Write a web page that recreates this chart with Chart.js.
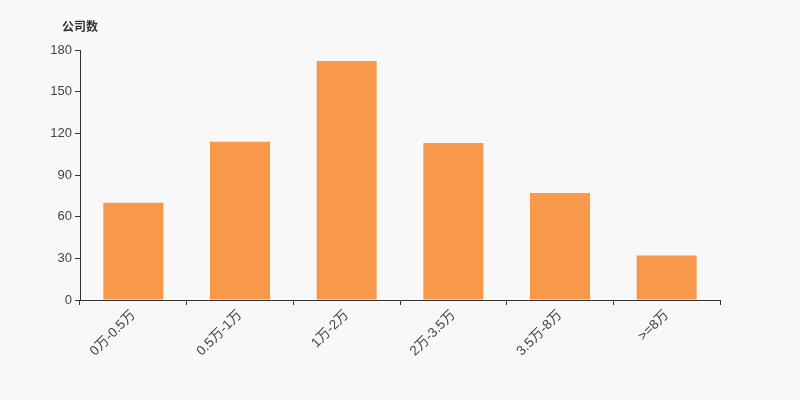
<!DOCTYPE html>
<html>
<head>
<meta charset="utf-8">
<script src="https://cdn.jsdelivr.net/npm/chart.js@4.4.0/dist/chart.umd.min.js"></script>
<style>
	html, body { margin: 0; padding: 0; background: #f8f8f8; }
	#wrap { width: 800px; height: 400px; }
</style>
</head>
<body>
<div id="wrap"><canvas id="bar-chart" width="800" height="400"></canvas></div>
<script>
// data
var categories = ["0万-0.5万", "0.5万-1万", "1万-2万", "2万-3.5万", "3.5万-8万", ">=8万"];
var companyCounts = [70, 114, 172, 113, 77, 32];
var yTicks = [0, 30, 60, 90, 120, 150, 180];
var yTitle = "公司数";

var FONT = "'Liberation Sans', 'Noto Sans CJK SC', sans-serif";
var AXIS_COLOR = "#333333";

// title above the y axis, like the original
var yTitlePlugin = {
	id: "yTitle",
	afterDraw: function (chart) {
		var ctx = chart.ctx;
		ctx.save();
		ctx.font = "bold 12px " + FONT;
		ctx.fillStyle = "#333333";
		ctx.textAlign = "center";
		ctx.textBaseline = "middle";
		ctx.fillText(yTitle, chart.chartArea.left, chart.chartArea.top - 22);
		ctx.restore();
	}
};

var handleBarChart = function () {
	const ctx = document.getElementById("bar-chart").getContext("2d");

	var datany = {
		labels: categories,
		datasets: [
			{
				label: yTitle,
				data: companyCounts,
				backgroundColor: "#f7984a",
				borderWidth: 0,
				barPercentage: 0.5625,
				categoryPercentage: 1,
			},
		],
	};

	const myChart = new Chart(ctx, {
		type: "bar",
		data: datany,
		options: {
			responsive: false,
			animation: false,
			layout: {
				padding: { top: 50, right: 80, left: 0, bottom: 0 },
			},
			plugins: {
				legend: { display: false },
				tooltip: { enabled: false },
			},
			scales: {
				x: {
					afterFit: function (scale) { scale.height = 100; },
					border: { display: true, color: AXIS_COLOR, width: 1 },
					grid: {
						offset: true,
						drawOnChartArea: false,
						drawTicks: true,
						tickLength: 5,
						color: AXIS_COLOR,
					},
					ticks: {
						autoSkip: false,
						maxRotation: 45,
						minRotation: 45,
						padding: 2,
						color: "#444444",
						font: { size: 13.5, family: FONT },
					},
				},
				y: {
					min: 0,
					max: 180,
					afterFit: function (scale) { scale.width = 80; },
					afterBuildTicks: function (scale) {
						scale.ticks = yTicks.map(function (v) { return { value: v }; });
					},
					border: { display: true, color: AXIS_COLOR, width: 1 },
					grid: {
						drawOnChartArea: false,
						drawTicks: true,
						tickLength: 5,
						color: AXIS_COLOR,
					},
					ticks: {
						padding: 3,
						color: "#444444",
						font: { size: 13, family: FONT },
					},
				},
			},
		},
		plugins: [yTitlePlugin],
	});

	return myChart;
};

handleBarChart();
</script>
</body>
</html>
